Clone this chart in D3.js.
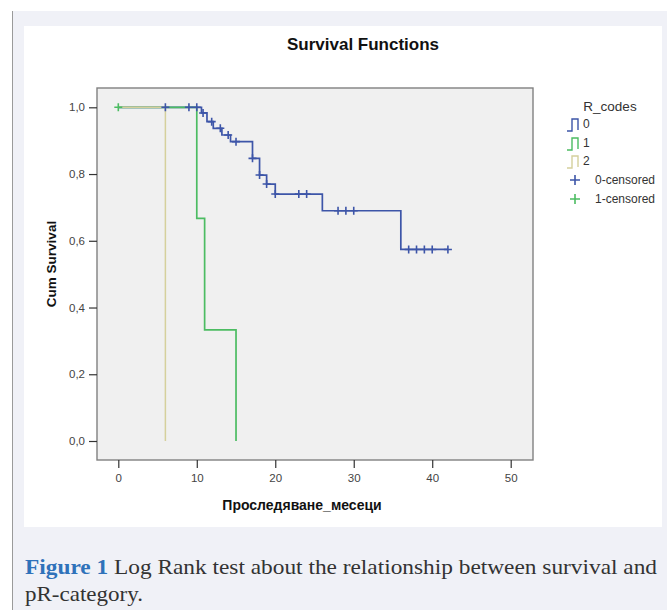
<!doctype html>
<html>
<head>
<meta charset="utf-8">
<script src="https://cdn.jsdelivr.net/npm/d3@7"></script>
<style>
  body { margin: 0; background: #fff; }
  svg text { font-family: Arial, "Liberation Sans", sans-serif; }
</style>
</head>
<body>
<script>
// survival steps [time, cum survival] per R_codes group
const steps0 = [[0, 1], [10.6, 0.983], [11.3, 0.957], [12.1, 0.937], [13.2, 0.917], [14.3, 0.897],
  [17.1, 0.847], [18, 0.797], [18.9, 0.770], [20, 0.740], [26, 0.690], [36, 0.574], [42, 0.574]];
const steps1 = [[0, 1], [10, 0.667], [11, 0.333], [15, 0]];
const steps2 = [[0, 1], [6, 0]];

// censored observations [time, cum survival]
const cens0 = [[6, 1], [9, 1], [10, 1], [10.8, 0.983], [11.9, 0.957], [13, 0.937], [14, 0.917], [15, 0.897],
  [17.1, 0.847], [18, 0.797], [18.9, 0.770], [20, 0.740], [23, 0.740], [24, 0.740],
  [28, 0.690], [29, 0.690], [30, 0.690], [37, 0.574], [38, 0.574], [39, 0.574], [40, 0.574], [42, 0.574]];
const cens1 = [[0, 1]];

const xTicks = [0, 10, 20, 30, 40, 50];
const yTicks = [0, 0.2, 0.4, 0.6, 0.8, 1.0];
const legendLabels = ["0", "1", "2", "0-censored", "1-censored"];

const blue = "#3d55a8", green = "#4cbc62", tan = "#d5d09c";

const W = 667, H = 610;
const svg = d3.select("body").append("svg").attr("width", W).attr("height", H);

// page frame
svg.append("rect").attr("x", 12).attr("y", 11).attr("width", W - 12).attr("height", H - 11).attr("fill", "#f0f1f7");
svg.append("line").attr("x1", 12.5).attr("x2", 12.5).attr("y1", 11).attr("y2", H).attr("stroke", "#9a9a9a");
svg.append("rect").attr("x", 24).attr("y", 26).attr("width", 638).attr("height", 501).attr("fill", "#fff");

// plot area
const frame = {left: 97, top: 88, right: 533, bottom: 460};
const x = d3.scaleLinear().domain([0, 50]).range([118.3, 510.7]);
const y = d3.scaleLinear().domain([0, 1]).range([441, 107.3]);

svg.append("rect")
  .attr("x", frame.left).attr("y", frame.top)
  .attr("width", frame.right - frame.left).attr("height", frame.bottom - frame.top)
  .attr("fill", "#f0f0f0").attr("stroke", "#808080").attr("stroke-width", 1.4);

// axes
const yAxis = d3.axisLeft(y).tickValues(yTicks).tickSize(8).tickPadding(4)
  .tickFormat(d => d3.format(".1f")(d).replace(".", ","));
const gy = svg.append("g").attr("transform", `translate(${frame.left},0)`).call(yAxis);
const xAxis = d3.axisBottom(x).tickValues(xTicks).tickSize(8).tickPadding(6);
const gx = svg.append("g").attr("transform", `translate(0,${frame.bottom})`).call(xAxis);
[gx, gy].forEach(g => {
  g.select(".domain").remove();
  g.selectAll(".tick line").attr("stroke", "#333").attr("stroke-width", 1.2);
  g.selectAll(".tick text").attr("fill", "#444").style("font-size", "11.5px");
});

// survival lines
const stepLine = d3.line().x(d => x(d[0])).y(d => y(d[1])).curve(d3.curveStepAfter);
[[steps0, blue, 1.7], [steps1, green, 1.7], [steps2, tan, 1.5]].forEach(([data, col, w]) => {
  svg.append("path").datum(data).attr("d", stepLine)
    .attr("fill", "none").attr("stroke", col).attr("stroke-width", w);
});

// censor marks
function plus(g, cx, cy, col, s) {
  g.append("path").attr("d", `M${cx - s},${cy}H${cx + s}M${cx},${cy - s}V${cy + s}`)
    .attr("stroke", col).attr("stroke-width", 1.6).attr("fill", "none");
}
const gc = svg.append("g");
cens0.forEach(d => plus(gc, x(d[0]), y(d[1]), blue, 4));
cens1.forEach(d => plus(gc, x(d[0]), y(d[1]), green, 4));

// titles
svg.append("text").attr("x", 363).attr("y", 50).attr("text-anchor", "middle")
  .style("font-size", "17px").style("font-weight", "bold").attr("fill", "#111").text("Survival Functions");
svg.append("text").attr("x", 302).attr("y", 510).attr("text-anchor", "middle")
  .style("font-size", "14px").style("font-weight", "bold").attr("fill", "#111").text("Проследяване_месеци");
svg.append("text").attr("transform", "translate(56,264) rotate(-90)").attr("text-anchor", "middle")
  .style("font-size", "13.5px").style("font-weight", "bold").attr("fill", "#111").text("Cum Survival");

// legend
const lg = svg.append("g");
lg.append("text").attr("x", 610).attr("y", 111).attr("text-anchor", "middle")
  .style("font-size", "13.5px").attr("fill", "#333").text("R_codes");
const legendCols = [blue, green, tan, blue, green];
const rowY = [124, 143, 161, 180, 199];
legendLabels.forEach((lab, i) => {
  const cy = rowY[i], col = legendCols[i];
  if (i < 3) {
    lg.append("path").attr("d", `M567,${cy + 7}H572V${cy - 5}H578V${cy + 6}`)
      .attr("fill", "none").attr("stroke", col).attr("stroke-width", 1.4);
    lg.append("text").attr("x", 583).attr("y", cy + 4).style("font-size", "12px").attr("fill", "#333").text(lab);
  } else {
    plus(lg, 575, cy, col, 5);
    lg.append("text").attr("x", 595).attr("y", cy + 4).style("font-size", "12px").attr("fill", "#333").text(lab);
  }
});

// caption
const cap = svg.append("text").attr("x", 25).attr("y", 574)
  .attr("textLength", 632).attr("lengthAdjust", "spacingAndGlyphs")
  .style("font-family", "'Liberation Serif', serif").style("font-size", "21px").attr("fill", "#333");
cap.append("tspan").attr("fill", "#2f72ba").style("font-weight", "bold").text("Figure 1");
cap.append("tspan").text(" Log Rank test about the relationship between survival and");
svg.append("text").attr("x", 25).attr("y", 601)
  .attr("textLength", 118).attr("lengthAdjust", "spacingAndGlyphs")
  .style("font-family", "'Liberation Serif', serif").style("font-size", "21px").attr("fill", "#333")
  .text("pR-category.");
</script>
</body>
</html>
